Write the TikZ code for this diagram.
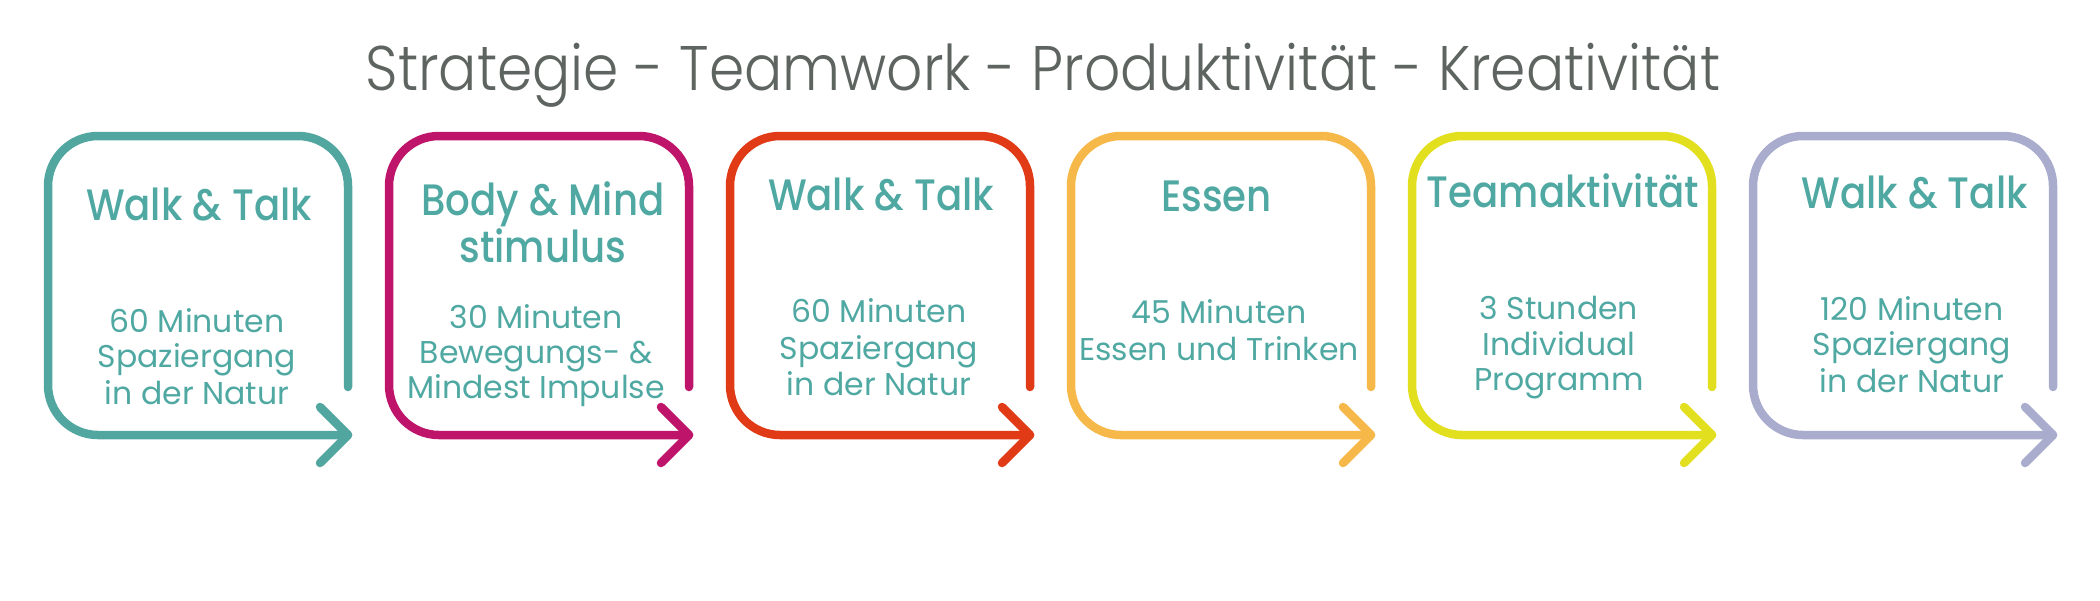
\documentclass[tikz,border=0pt]{standalone}
\usepackage{fontspec}
\setmainfont{Poppins}
\newfontfamily\titlefont{Poppins Light}[FakeStretch=0.9]
\newfontfamily\headfont{Poppins Medium}[FakeStretch=0.88]
\definecolor{tealtxt}{HTML}{50A8A2}
\definecolor{titlegray}{HTML}{5E6561}
\definecolor{cA}{HTML}{52A6A0}
\definecolor{cB}{HTML}{BE1469}
\definecolor{cC}{HTML}{E03A16}
\definecolor{cD}{HTML}{F6B848}
\definecolor{cE}{HTML}{E2DF1E}
\definecolor{cF}{HTML}{AAACCE}
\tikzset{
  boxline/.style={line width=8.5pt, line cap=round, line join=round, rounded corners=50pt},
  tipline/.style={line width=8.5pt, line cap=round, line join=round},
  head/.style={text=tealtxt, font=\headfont\fontsize{44}{44}\selectfont, anchor=base, inner sep=0pt},
  bodytxt/.style={text=tealtxt, font=\fontsize{31.5}{31.5}\selectfont, anchor=base, inner sep=0pt},
  ttl/.style={text=titlegray, font=\titlefont\fontsize{63}{63}\selectfont, anchor=base, inner sep=0pt}
}
\newcommand\stepbox[2]{%
  \draw[boxline, #2] (#1+300,387) -- (#1+300,136) -- (#1,136) -- (#1,435) -- (#1+300,435);
  \draw[tipline, #2] (#1+272,407) -- (#1+300,435) -- (#1+272,463);
}
\begin{document}
\begin{tikzpicture}[x=1pt, y=-1pt]
\useasboundingbox (0,0) rectangle (2100,600);
\stepbox{48}{cA}
\stepbox{389}{cB}
\stepbox{730}{cC}
\stepbox{1071}{cD}
\stepbox{1412}{cE}
\stepbox{1753}{cF}
\node[ttl] (title) at (1043,90.7) {Strategie - Teamwork - Produktivität - Kreativität};
% box 1
\node[head] (h1) at (199,220) {Walk \& Talk};
\node[bodytxt] (t1a) at (197,332) {60 Minuten};
\node[bodytxt] (t1b) at (197,367) {Spaziergang};
\node[bodytxt] (t1c) at (197,404) {in der Natur};
% box 2
\node[head] (h2a) at (543,215) {Body \& Mind};
\node[head] (h2b) at (543,262) {stimulus};
\node[bodytxt] (t2a) at (536,328) {30 Minuten};
\node[bodytxt] (t2b) at (536,363) {Bewegungs- \&};
\node[bodytxt] (t2c) at (536,398) {Mindest Impulse};
% box 3
\node[head] (h3) at (881,210.7) {Walk \& Talk};
\node[bodytxt] (t3a) at (879,322.7) {60 Minuten};
\node[bodytxt] (t3b) at (879,359.3) {Spaziergang};
\node[bodytxt] (t3c) at (879,395) {in der Natur};
% box 4
\node[head] (h4) at (1216.5,211.7) {Essen};
\node[bodytxt] (t4a) at (1219,323) {45 Minuten};
\node[bodytxt] (t4b) at (1219,360) {Essen und Trinken};
% box 5
\node[head] (h5) at (1563,207) {Teamaktivität};
\node[bodytxt] (t5a) at (1559,319) {3 Stunden};
\node[bodytxt] (t5b) at (1559,355) {Individual};
\node[bodytxt] (t5c) at (1559,390) {Programm};
% box 6
\node[head] (h6) at (1914.7,208) {Walk \& Talk};
\node[bodytxt] (t6a) at (1912,320) {120 Minuten};
\node[bodytxt] (t6b) at (1912,355) {Spaziergang};
\node[bodytxt] (t6c) at (1912,392) {in der Natur};
\end{tikzpicture}
\end{document}
